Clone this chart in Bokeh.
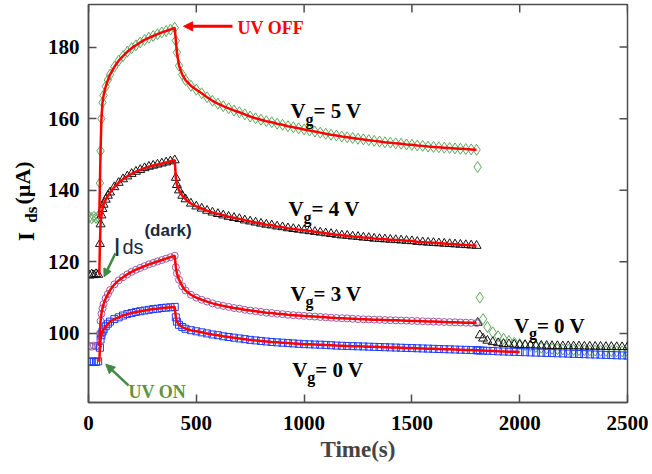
from math import pi
from bokeh.plotting import figure
from bokeh.layouts import row
from bokeh.models import FixedTicker, Range1d, Label, Arrow, NormalHead
from bokeh.core.properties import value
from bokeh.embed import file_html
from bokeh.resources import INLINE

# ---------------- data ----------------
t_pre = [5, 15, 25, 35, 45]
t_rise = [50, 53, 56, 60, 65, 70, 80, 90, 100, 120, 140, 160, 180, 200, 220,
          240, 260, 280, 300, 320, 340, 360, 380]
t_decay = [400, 405, 410, 420, 435, 450, 475] + list(range(500, 1801, 25))
t_rec = [1805, 1815, 1830, 1850, 1875, 1900, 1925, 1950, 1975, 2000] + list(range(2025, 2501, 25))

pre_5 = [132.5, 132.2, 132.6, 132.3, 132.5]
pre_4 = [116.2, 116.5, 116.3, 116.6, 116.4]
pre_3 = [96.5, 96.3, 96.6, 96.4, 96.5]
pre_0 = [92.0, 92.2, 92.1, 92.0, 92.2]

rise_5 = [132.5, 142, 151, 160, 164.5, 166.5, 169, 170.8, 172.3, 174.5, 176.2, 177.5,
          178.7, 179.7, 180.5, 181.3, 182.0, 182.6, 183.1, 183.6, 184.1, 184.5, 184.9]
rise_4 = [116.4, 125, 130.5, 133, 134.8, 136, 137.4, 138.5, 139.4, 140.9, 142.1, 143.1,
          143.9, 144.6, 145.2, 145.7, 146.2, 146.6, 146.9, 147.2, 147.5, 147.8, 148.1]
rise_3 = [96.5, 100, 103.5, 105.5, 107, 108.2, 109.8, 111, 112.1, 113.7, 114.8, 115.7,
          116.5, 117.2, 117.8, 118.3, 118.8, 119.3, 119.7, 120.1, 120.5, 120.9, 121.3]
rise_0 = [92.1, 96, 98.3, 99.5, 100.5, 101.1, 102, 102.7, 103.3, 104, 104.5, 105,
          105.4, 105.7, 106, 106.2, 106.4, 106.6, 106.8, 106.9, 107.1, 107.2, 107.3]

decay_5 = [185.4, 181.8, 178.5, 174.8, 172.3, 170.8, 169.2,
           168.1, 167.1, 166.0, 165.0, 164.2, 163.5, 162.9, 162.3, 161.8, 161.2, 160.6,
           160.1, 159.7, 159.3, 159.0, 158.6, 158.3, 157.9, 157.6, 157.3, 157.0, 156.7,
           156.4, 156.1, 155.8, 155.5, 155.3, 155.0, 154.8, 154.6, 154.4, 154.2, 154.0,
           153.8, 153.6, 153.4, 153.3, 153.1, 153.0, 152.8, 152.7, 152.5, 152.4, 152.2,
           152.1, 152.0, 151.9, 151.8, 151.7, 151.6, 151.5, 151.4, 151.3]
decay_4 = [148.4, 143.5, 141.5, 140.0, 138.5, 137.5, 136.3,
           135.5, 134.9, 134.3, 133.8, 133.4, 133.0, 132.6, 132.3, 132.0, 131.6, 131.3,
           131.0, 130.7, 130.4, 130.2, 129.9, 129.7, 129.4, 129.2, 129.0, 128.8, 128.6,
           128.4, 128.2, 128.0, 127.8, 127.6, 127.4, 127.3, 127.1, 127.0, 126.8, 126.7,
           126.5, 126.4, 126.3, 126.2, 126.1, 126.0, 125.9, 125.8, 125.6, 125.5, 125.4,
           125.3, 125.2, 125.1, 125.0, 124.9, 124.8, 124.7, 124.6, 124.5]
decay_3 = [121.7, 118.5, 116.8, 115.0, 113.2, 112.0, 110.8,
           110.0, 109.4, 108.9, 108.4, 108.0, 107.7, 107.4, 107.1, 106.9, 106.6, 106.4,
           106.2, 106.0, 105.8, 105.7, 105.5, 105.4, 105.2, 105.1, 105.0, 104.9, 104.8,
           104.7, 104.6, 104.5, 104.4, 104.3, 104.25, 104.2, 104.1, 104.0, 103.95, 103.9,
           103.85, 103.8, 103.75, 103.7, 103.65, 103.6, 103.55, 103.5, 103.45, 103.4,
           103.35, 103.3, 103.25, 103.2, 103.15, 103.1, 103.05, 103.0, 102.95, 102.9]
decay_0 = [107.4, 104.5, 103.3, 102.4, 101.8, 101.3, 100.9,
           100.6, 100.3, 100.0, 99.7, 99.5, 99.2, 99.0, 98.8, 98.6, 98.4, 98.2, 98.05,
           97.9, 97.75, 97.6, 97.5, 97.4, 97.3, 97.2, 97.1, 97.0, 96.95, 96.9, 96.85,
           96.8, 96.7, 96.6, 96.55, 96.5, 96.45, 96.4, 96.35, 96.3, 96.25, 96.2, 96.15,
           96.1, 96.05, 96.0, 95.95, 95.9, 95.85, 95.8, 95.75, 95.7, 95.65, 95.6, 95.55,
           95.5, 95.45, 95.4, 95.35, 95.3]

rec_5 = [146.5, 110.0, 104.0, 101.8, 100.3, 99.2, 98.5, 97.9, 97.4, 97.0,
         96.7, 96.5, 96.2, 96.0, 95.85, 95.7, 95.6, 95.5, 95.45, 95.4, 95.35, 95.3,
         95.25, 95.2, 95.15, 95.1, 95.05, 95.0, 95.0, 94.95]
rec_4 = [103.0, 99.5, 98.6, 98.0, 97.6, 97.3, 97.1, 97.0, 96.9, 96.8,
         96.75, 96.7, 96.65, 96.6, 96.55, 96.5, 96.5, 96.45, 96.45, 96.4, 96.4, 96.35,
         96.35, 96.3, 96.3, 96.25, 96.25, 96.2, 96.2, 96.2]
rec_0 = [95.3, 95.25, 95.2, 95.15, 95.1, 95.0, 94.95, 94.9, 94.85, 94.8,
         94.75, 94.7, 94.65, 94.6, 94.55, 94.5, 94.45, 94.4, 94.35, 94.3, 94.25, 94.2,
         94.15, 94.1, 94.05, 94.0, 93.95, 93.9, 93.85, 93.8]
fit0_end = 10  # recovery points of Vg=0 V covered by its fit (up to 2000 s)

x_ticks = [0, 500, 1000, 1500, 2000, 2500]
y_ticks = [100, 120, 140, 160, 180]

X0, X1 = 0, 2500
Y0, Y1 = 80.7, 191.9

# ---------------- figure ----------------
SERIF = "Liberation Serif"
SANS = "Liberation Sans"
FRAME = "#4d4d4d"

H = 466
p = figure(width=612, height=H, x_range=Range1d(X0, X1), y_range=Range1d(Y0, Y1),
           output_backend="svg", toolbar_location=None,
           min_border_left=48, min_border_right=25, min_border_top=4, min_border_bottom=64)
p.grid.visible = False
p.outline_line_color = FRAME
p.outline_line_width = 1.5


def style_axis(ax, ticks):
    ax.ticker = FixedTicker(ticks=ticks)
    ax.major_tick_in = 8
    ax.major_tick_out = 0
    ax.minor_tick_line_color = None
    ax.major_tick_line_color = FRAME
    ax.major_tick_line_width = 1.5
    ax.axis_line_color = FRAME
    ax.axis_line_width = 1.5
    ax.major_label_text_font = SERIF
    ax.major_label_text_font_style = "bold"
    ax.major_label_text_color = "black"
    ax.major_label_text_font_size = "21px"


style_axis(p.xaxis[0], x_ticks)
p.xaxis[0].major_label_standoff = 13
p.xaxis[0].axis_label = "Time(s)"
p.xaxis[0].axis_label_text_font = SERIF
p.xaxis[0].axis_label_text_font_style = "bold"
p.xaxis[0].axis_label_text_font_size = "23px"
p.xaxis[0].axis_label_standoff = 4
style_axis(p.yaxis[0], y_ticks)
p.yaxis[0].major_label_standoff = 9

# inward ticks on the top and right edges of the frame
tick_dy = 8 * (Y1 - Y0) / 394
tick_dx = 8 * (X1 - X0) / 539
p.segment(x0=x_ticks, y0=[Y1] * len(x_ticks), x1=x_ticks, y1=[Y1 - tick_dy] * len(x_ticks),
          line_color=FRAME, line_width=1.5)
p.segment(x0=[X1] * len(y_ticks), y0=y_ticks, x1=[X1 - tick_dx] * len(y_ticks), y1=y_ticks,
          line_color=FRAME, line_width=1.5)

# ---------------- markers ----------------
GREEN = "#5ea95e"
PURPLE = "#9b5ba8"
BLUE = "#1f3cff"
BLACK = "#111111"
RED = "#ff0000"

x5 = t_pre + t_rise[1:] + t_decay + t_rec
y5 = pre_5 + rise_5[1:] + decay_5 + rec_5
p.scatter(x5, y5, marker="diamond", size=11, fill_color=None, line_color=GREEN, line_width=1)

x4 = t_pre + t_rise[1:] + t_decay + t_rec
y4 = pre_4 + rise_4[1:] + decay_4 + rec_4
p.scatter(x4, y4, marker="triangle", size=9, fill_color=None, line_color=BLACK, line_width=1)

x3 = t_pre + t_rise[1:] + t_decay
y3 = pre_3 + rise_3[1:] + decay_3
p.scatter(x3, y3, marker="circle", size=7, fill_color=None, line_color=PURPLE, line_width=1)

x0 = t_pre + t_rise[1:] + t_decay + t_rec
y0 = pre_0 + rise_0[1:] + decay_0 + rec_0
p.scatter(x0, y0, marker="square", size=7, fill_color=None, line_color=BLUE, line_width=1)

# ---------------- fitted curves ----------------
for rise, decay in [(rise_5, decay_5), (rise_4, decay_4), (rise_3, decay_3)]:
    p.line(t_rise + t_decay, rise + decay, line_color=RED, line_width=2.5)
p.line(t_rise + t_decay + t_rec[:fit0_end], rise_0 + decay_0 + rec_0[:fit0_end],
       line_color=RED, line_width=2.5)


# ---------------- texts ----------------
def lab(x, y, text, size, color="black", font=SERIF, style="bold", dx=0, dy=0):
    p.add_layout(Label(x=x, y=y, text=text, x_offset=dx, y_offset=dy, text_font=font,
                       text_font_size=f"{size}px", text_font_style=style, text_color=color,
                       text_align="left", text_baseline="alphabetic"))


def vg(x, y, val):
    lab(x, y, "V", 21)
    lab(x, y, "g", 16, dx=15, dy=-8)
    lab(x, y, f"= {val} V", 21, dx=23)


vg(937, 162.1, 5)
vg(928, 134.7, 4)
vg(937, 111.1, 3)
vg(945, 89.8, 0)
vg(1973, 102.1, 0)

lab(691, 185.4, "UV OFF", 18, color=RED)
p.add_layout(Arrow(end=NormalHead(size=9, fill_color=RED, line_color=RED),
                   x_start=668, y_start=185.8, x_end=441, y_end=185.8,
                   line_color=RED, line_width=3))

ON_GREEN = "#5f9340"
ARROW_GREEN = "#3f8a45"
lab(185.5, 83.6, "UV ON", 18, color=ON_GREEN)
p.add_layout(Arrow(end=NormalHead(size=9, fill_color=ARROW_GREEN, line_color=ARROW_GREEN),
                   x_start=185.5, y_start=85.5, x_end=80, y_end=91.4,
                   line_color=ARROW_GREEN, line_width=2.5))

DARK = "#1b2a3f"
lab(115.5, 124.1, "I", 26, color=DARK, font=SANS, style="normal")
lab(115.5, 124.1, "ds", 20, color=DARK, font=SANS, style="normal", dx=9)
lab(115.5, 124.1, "(dark)", 17, color=DARK, font=SANS, style="bold", dx=31, dy=17)
p.add_layout(Arrow(end=NormalHead(size=8, fill_color=ARROW_GREEN, line_color=ARROW_GREEN),
                   x_start=125, y_start=122.4, x_end=72, y_end=115.8,
                   line_color=ARROW_GREEN, line_width=2.5))

# ---------------- y-axis title in a narrow side panel ----------------
lf = figure(width=40, height=H, x_range=Range1d(0, 40), y_range=p.y_range,
            output_backend="svg", toolbar_location=None, x_axis_type=None, y_axis_type=None,
            min_border_left=0, min_border_right=0, min_border_top=4, min_border_bottom=64)
lf.outline_line_color = None
lf.grid.visible = False
title_parts = ["I", "ds", "(\u00b5A)"]
title_x = [25.5, 31, 21.5]
title_y = [125.8, 130.9, 136.0]
title_sizes = ["23px", "17px", "22px"]
for tx, ty, tt, ts in zip(title_x, title_y, title_parts, title_sizes):
    lf.text(x=[tx], y=[ty], text=[tt], angle=pi / 2, text_font=value(SERIF),
            text_font_style="bold", text_font_size=ts, text_color="black",
            text_align="left", text_baseline="alphabetic")

layout = row(lf, p, spacing=0)
open("out.html", "w").write(file_html(layout, INLINE))
